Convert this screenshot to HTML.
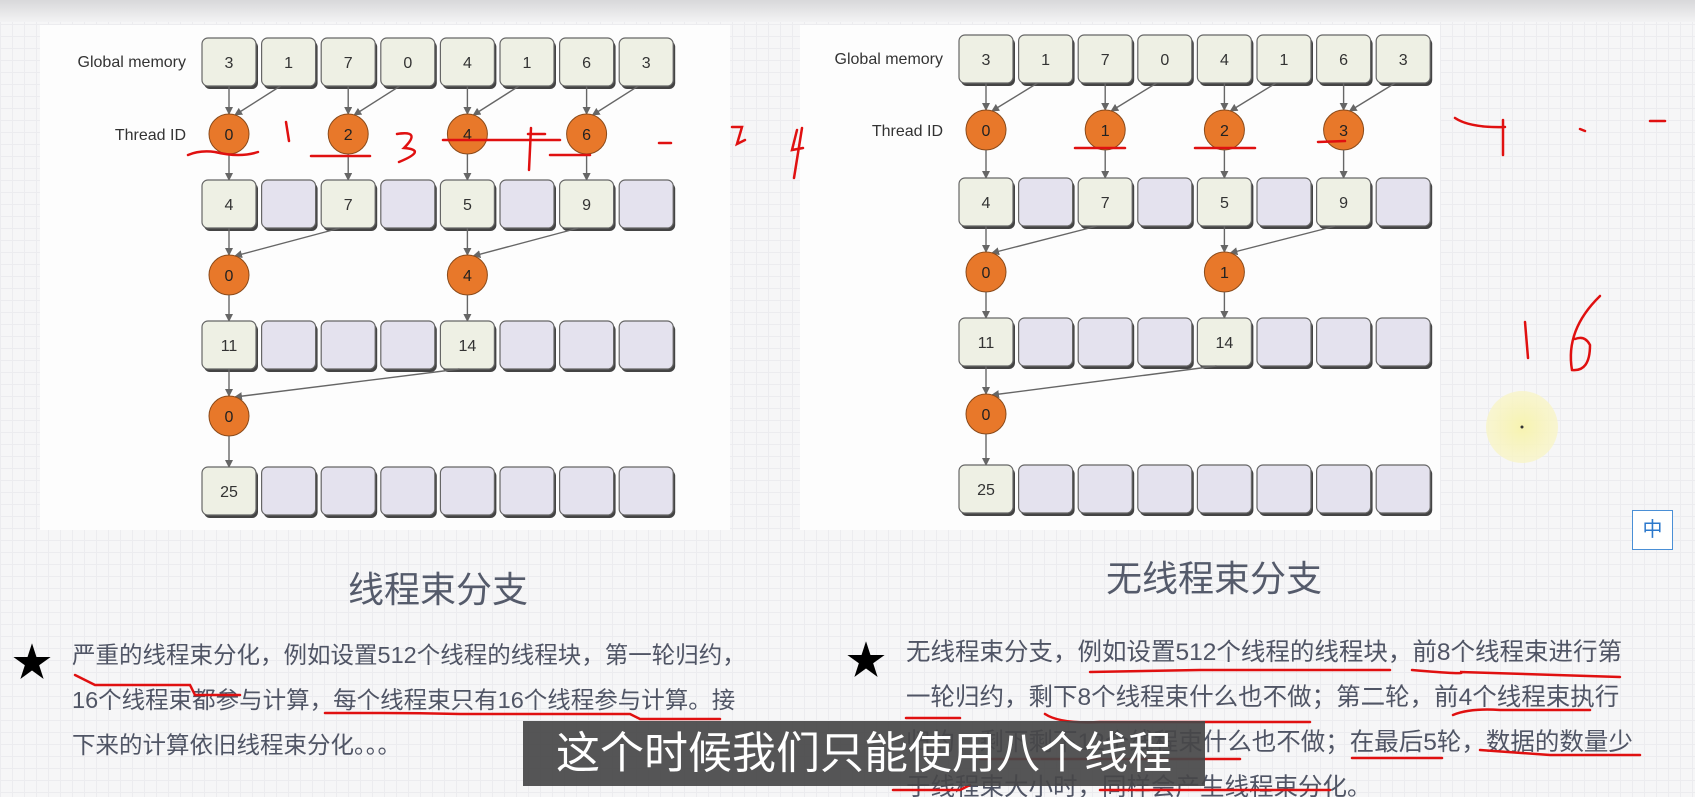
<!DOCTYPE html>
<html><head><meta charset="utf-8">
<style>
html,body{margin:0;padding:0;width:1695px;height:797px;overflow:hidden;background:#f6f6f7;}
body{background-image:linear-gradient(#ececef 1px,transparent 1px),linear-gradient(90deg,#ececef 1px,transparent 1px);background-size:12px 12px;position:relative;font-family:"Liberation Sans","Noto Sans CJK SC",sans-serif;}
.topband{position:absolute;left:0;top:0;width:1695px;height:22px;background:linear-gradient(#d8d8da,#f3f3f4);}
.panel{position:absolute;background:#fdfdfd;}
svg{position:absolute;left:0;top:0;}
.title{position:absolute;color:#555b6b;font-size:36px;font-family:"Liberation Sans","Noto Sans CJK SC",sans-serif;}
.para{position:absolute;color:#505565;line-height:45px;white-space:nowrap;}
.star{position:absolute;font-size:40px;color:#000;}
.sub{position:absolute;left:523px;top:721px;width:682px;height:65px;background:rgba(70,70,72,0.92);color:#fff;font-size:44px;line-height:65px;text-align:center;font-family:"Liberation Sans","Noto Sans CJK SC",sans-serif;}
.zh{position:absolute;left:1632px;top:510px;width:39px;height:38px;border:1px solid #4a8fd6;background:#fff;color:#2b78cc;font-size:20px;text-align:center;line-height:38px;}
</style></head><body>
<div class="topband"></div>
<div class="panel" style="left:40px;top:25px;width:690px;height:505px;"></div>
<div class="panel" style="left:800px;top:25px;width:640px;height:505px;"></div>
<div class="title" style="left:348px;top:561px;">线程束分支</div>
<div class="title" style="left:1106px;top:550px;">无线程束分支</div>
<div class="star" style="left:12px;top:630px;">★</div>
<div class="star" style="left:846px;top:628px;">★</div>
<div class="para" style="left:72px;top:633px;font-size:23.5px;">严重的线程束分化，例如设置512个线程的线程块，第一轮归约，<br>16个线程束都参与计算，每个线程束只有16个线程参与计算。接<br>下来的计算依旧线程束分化。。。</div>
<div class="para" style="left:906px;top:630px;font-size:24.5px;">无线程束分支，例如设置512个线程的线程块，前8个线程束进行第<br>一轮归约，剩下8个线程束什么也不做；第二轮，前4个线程束执行<br>归约，剩下剩下12个线程束什么也不做；在最后5轮，数据的数量少<br>于线程束大小时，同样会产生线程束分化。</div>
<svg id="s" width="1695" height="797" xmlns="http://www.w3.org/2000/svg">
<defs>
<marker id="a" markerWidth="8" markerHeight="8" refX="7" refY="4" orient="auto" markerUnits="userSpaceOnUse"><path d="M0,0 L8,4 L0,8 Z" fill="#666"/></marker>
<radialGradient id="y"><stop offset="0" stop-color="#f7f3b0"/><stop offset="1" stop-color="#f8f5c8" stop-opacity="0.8"/></radialGradient>
</defs>
</svg>
<div class="sub">这个时候我们只能使用八个线程</div>
<div class="zh">中</div>
<script>
const s=document.getElementById('s');const NS='http://www.w3.org/2000/svg';
function el(t,a,txt){const e=document.createElementNS(NS,t);for(const k in a)e.setAttribute(k,a[k]);if(txt!==undefined)e.textContent=txt;s.appendChild(e);return e;}
const P=59.6,W=54,H=48;
function box(x,y,v){el('rect',{x:x+2,y:y+3,width:W,height:H,rx:6,fill:'#444'});el('rect',{x:x,y:y,width:W,height:H,rx:6,fill:v===''?'#e4e2ee':'#eef0e4',stroke:'#666','stroke-width':1.2});if(v!=='')el('text',{x:x+W/2,y:y+H/2+6,'text-anchor':'middle','font-size':16,fill:'#333','font-family':'Liberation Sans'},v);}
function circ(cx,cy,v){el('circle',{cx:cx,cy:cy,r:20,fill:'#e8782a',stroke:'#8a4a1a','stroke-width':1});el('text',{x:cx,y:cy+6,'text-anchor':'middle','font-size':16,fill:'#222','font-family':'Liberation Sans'},v);}
function arr(x1,y1,x2,y2){el('line',{x1:x1,y1:y1,x2:x2,y2:y2,stroke:'#666','stroke-width':1.4,'marker-end':'url(#a)'});}
function diagram(X,Y,thr,lbls){
 el('text',{x:X-16,y:Y[0]+29,'text-anchor':'end','font-size':16,fill:'#333','font-family':'Liberation Sans'},'Global memory');
 el('text',{x:X-16,y:Y[1]+6,'text-anchor':'end','font-size':16,fill:'#333','font-family':'Liberation Sans'},'Thread ID');
 const cx=i=>X+i*P+W/2;
 const g=['3','1','7','0','4','1','6','3'];
 g.forEach((v,i)=>box(X+i*P,Y[0],v));
 [0,2,4,6].forEach((c,k)=>{arr(cx(c),Y[0]+H,cx(c),Y[1]-20);arr(cx(c+1)-8,Y[0]+H,cx(c)+6,Y[1]-19);circ(cx(c),Y[1],lbls[k]);arr(cx(c),Y[1]+20,cx(c),Y[2]);});
 const r2={0:'4',2:'7',4:'5',6:'9'};for(let i=0;i<8;i++)box(X+i*P,Y[2],r2[i]||'');
 [0,4].forEach((c,k)=>{arr(cx(c),Y[2]+H,cx(c),Y[3]-20);arr(cx(c+2)-8,Y[2]+H,cx(c)+6,Y[3]-19);circ(cx(c),Y[3],thr[k]);arr(cx(c),Y[3]+20,cx(c),Y[4]);});
 const r3={0:'11',4:'14'};for(let i=0;i<8;i++)box(X+i*P,Y[4],r3[i]||'');
 arr(cx(0),Y[4]+H,cx(0),Y[5]-20);arr(cx(4)-8,Y[4]+H,cx(0)+6,Y[5]-19);circ(cx(0),Y[5],'0');arr(cx(0),Y[5]+20,cx(0),Y[6]);
 for(let i=0;i<8;i++)box(X+i*P,Y[6],i==0?'25':'');
}
diagram(202,[38,134,180,275,321,416,467],['0','4'],['0','2','4','6']);
diagram(959,[35,130,178,272,318,414,465],['0','1'],['0','1','2','3']);
el('circle',{cx:1522,cy:427,r:36,fill:'url(#y)'});el('circle',{cx:1522,cy:427,r:1.5,fill:'#333'});
const red=['M188,155 Q200,150 215,152 Q240,158 258,152','M311,156 L370,156','M286,122 L289,141','M397,134 Q422,130 404,148 Q428,150 399,162','M443,140 L560,140 M528,134 L545,134 M531,128 L529,170','M550,155 L590,155','M659,143 L671,143','M732,127 L742,127 L737,144 L745,140','M797,130 L792,150 L803,148 M802,128 L794,178',
'M1075,148 L1125,148','M1195,148 L1255,148','M1318,142 L1345,141','M1455,118 Q1470,128 1505,127 M1503,120 L1503,155','M1580,129 L1585,131','M1650,121 L1665,121','M1525,322 L1528,358','M1600,296 Q1565,330 1572,370 Q1590,372 1590,345 Q1585,335 1575,339',
'M75,675 Q85,680 95,685 L155,685 L190,685 L195,695 L240,695','M325,713 L380,713 Q420,713 460,714 L630,714 L640,719 L720,719',
'M1090,672 L1200,670 L1390,670','M1412,670 Q1470,675 1460,672 L1620,677','M906,718 L960,718','M1045,714 Q1060,724 1100,722 L1310,722','M1453,715 Q1470,708 1500,710 L1590,710','M1352,758 L1442,758','M1480,750 L1550,755 L1640,755','M980,759 L1240,759','M893,790 L960,790 L970,785','M1100,790 L1330,790'];
red.forEach(d=>el('path',{d:d,fill:'none',stroke:'#e01010','stroke-width':2.5,'stroke-linecap':'round'}));
</script>
</body></html>
